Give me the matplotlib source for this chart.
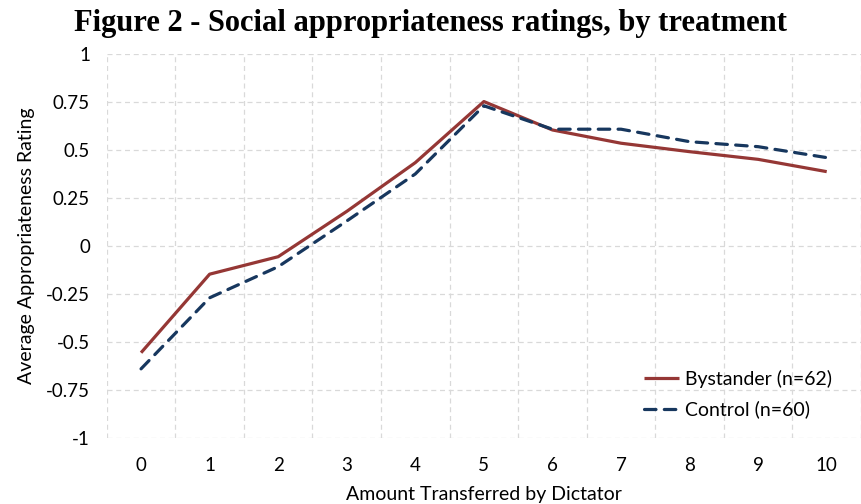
import numpy as np
import matplotlib.pyplot as plt
from matplotlib.ticker import FixedLocator

# data
amounts = list(range(11))
bystander = [-0.556, -0.147, -0.056, 0.18, 0.434, 0.752, 0.604, 0.535, 0.491, 0.451, 0.387]
control = [-0.64, -0.27, -0.108, 0.13, 0.375, 0.73, 0.608, 0.608, 0.543, 0.517, 0.46]
y_ticks = [-1, -0.75, -0.5, -0.25, 0, 0.25, 0.5, 0.75, 1]
y_tick_labels = ['-1', '-0.75', '-0.5', '-0.25', '0', '0.25', '0.5', '0.75', '1']

plt.rcParams['font.family'] = ['Lato', 'DejaVu Sans']

fig = plt.figure(figsize=(8.61, 5.04), dpi=100)
ax = fig.add_axes([0.124, 0.131, 0.876, 0.762])

ax.plot(amounts, bystander, color='#953735', linewidth=2.3,
        label='Bystander (n=62)', solid_capstyle='butt')
ax.plot(amounts, control, color='#17375E', linewidth=2.3,
        linestyle=(0, (3.6, 2.6)), label='Control (n=60)', dash_capstyle='round')

ax.set_xlim(-0.5, 10.5)
ax.set_ylim(-1, 1)
ax.set_xticks(amounts)
ax.set_yticks(y_ticks)
ax.set_yticklabels(y_tick_labels)
ax.xaxis.set_minor_locator(FixedLocator(np.arange(-0.5, 11, 1)))
ax.tick_params(axis='both', which='both', length=0, labelsize=13.5)
ax.tick_params(axis='y', pad=12)
ax.tick_params(axis='x', pad=14)

ax.grid(True, axis='y', which='major', color='#D9D9D9', linestyle=(0, (4, 3)), linewidth=0.9)
ax.grid(True, axis='x', which='minor', color='#D9D9D9', linestyle=(0, (4, 3)), linewidth=0.9)
ax.grid(False, axis='x', which='major')
for s in ax.spines.values():
    s.set_visible(False)

ax.set_xlabel('Amount Transferred by Dictator', fontsize=14, labelpad=8)
ax.set_ylabel('Average Appropriateness Rating', fontsize=14, labelpad=8)
fig.suptitle('Figure 2 - Social appropriateness ratings, by treatment',
             fontsize=22, fontweight='bold', family='Liberation Serif', y=0.982)

ax.legend(loc='lower right', frameon=False, fontsize=14, handlelength=1.8,
          handletextpad=0.3, bbox_to_anchor=(0.985, 0.005), labelspacing=0.65)

plt.savefig('out.png', dpi=100)
